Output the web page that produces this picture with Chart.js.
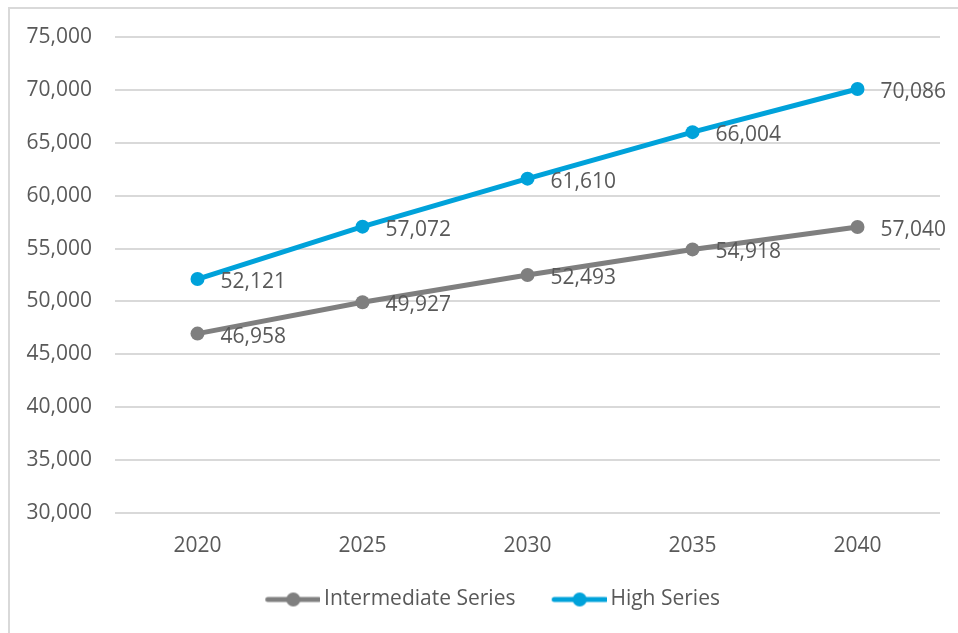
<!DOCTYPE html>
<html>
<head>
<meta charset="utf-8">
<script src="https://cdn.jsdelivr.net/npm/chart.js@4.4.1/dist/chart.umd.min.js"></script>
<style>
    html, body { margin: 0; padding: 0; background: #fff; overflow: hidden; width: 958px; height: 633px; }
    #frame { position: absolute; left: 8px; top: 7px; width: 1100px; height: 800px; border: 2px solid #d9d9d9; box-sizing: border-box; }
    #wrap { position: absolute; left: 0; top: 0; width: 980px; height: 633px; }
</style>
</head>
<body>
<div id="frame"></div>
<div id="wrap"><canvas id="chart" width="980" height="633"></canvas></div>
<script>
const years = ['2020', '2025', '2030', '2035', '2040'];
const intermediateSeries = [46958, 49927, 52493, 54918, 57040];
const highSeries = [52121, 57072, 61610, 66004, 70086];
const yTicks = [30000, 35000, 40000, 45000, 50000, 55000, 60000, 65000, 70000, 75000];

const textColor = '#595959';
const gridColor = '#d9d9d9';
const fontFamily = '"Open Sans", "Noto Sans", sans-serif';
const fontSize = 21;

const fmt = function (v) {
    return Number(v).toLocaleString('en-US');
};

// legend marker: line with a dot, sitting at the right side of the image
const markerBox = 53.5;
const legendMarker = function (color) {
    const c = document.createElement('canvas');
    c.width = Math.round(markerBox + 13);
    c.height = 16;
    const ctx = c.getContext('2d');
    const x1 = c.width - 1.5;
    const x0 = x1 - 51;
    ctx.strokeStyle = color;
    ctx.lineWidth = 5;
    ctx.lineCap = 'round';
    ctx.beginPath();
    ctx.moveTo(x0, 8);
    ctx.lineTo(x1, 8);
    ctx.stroke();
    ctx.fillStyle = color;
    ctx.beginPath();
    ctx.arc((x0 + x1) / 2, 8, 7, 0, Math.PI * 2);
    ctx.fill();
    return c;
};

// values written to the right of each point
const pointLabels = {
    id: 'pointLabels',
    afterDatasetsDraw: function (chart) {
        const ctx = chart.ctx;
        ctx.save();
        ctx.font = fontSize + 'px ' + fontFamily;
        ctx.fillStyle = textColor;
        ctx.textAlign = 'left';
        ctx.textBaseline = 'middle';
        chart.data.datasets.forEach(function (ds, i) {
            chart.getDatasetMeta(i).data.forEach(function (pt, j) {
                ctx.fillText(fmt(ds.data[j]), pt.x + 23, pt.y + 3);
            });
        });
        ctx.restore();
    }
};

const colors = { intermediate: '#7f7f7f', high: '#00a2da' };

new Chart(document.getElementById('chart'), {
    type: 'line',
    data: {
        labels: years,
        datasets: [{
            label: 'Intermediate Series',
            data: intermediateSeries,
            borderColor: colors.intermediate,
            backgroundColor: colors.intermediate,
            pointBackgroundColor: colors.intermediate,
            borderWidth: 5,
            pointRadius: 7,
            pointBorderWidth: 0,
            tension: 0
        }, {
            label: 'High Series',
            data: highSeries,
            borderColor: colors.high,
            backgroundColor: colors.high,
            pointBackgroundColor: colors.high,
            borderWidth: 5,
            pointRadius: 7,
            pointBorderWidth: 0,
            tension: 0
        }]
    },
    options: {
        responsive: false,
        animation: false,
        layout: { padding: { left: 0, right: 0, top: 37, bottom: 13 } },
        plugins: {
            tooltip: { enabled: false },
            legend: {
                position: 'bottom',
                labels: {
                    color: textColor,
                    font: { family: fontFamily, size: fontSize },
                    usePointStyle: true,
                    pointStyleWidth: markerBox,
                    padding: 31,
                    generateLabels: function (chart) {
                        return chart.data.datasets.map(function (ds, i) {
                            return {
                                text: ds.label,
                                pointStyle: legendMarker(ds.borderColor),
                                fontColor: textColor,
                                datasetIndex: i,
                                hidden: false,
                                lineWidth: 0
                            };
                        });
                    }
                }
            }
        },
        scales: {
            x: {
                offset: true,
                afterFit: function (scale) {
                    scale.height = 45;
                },
                grid: { display: false, drawTicks: false },
                border: { display: false },
                ticks: {
                    color: textColor,
                    font: { family: fontFamily, size: fontSize },
                    padding: 20
                }
            },
            y: {
                min: 30000,
                max: 75000,
                afterBuildTicks: function (scale) {
                    scale.ticks = yTicks.map(function (v) { return { value: v }; });
                },
                afterFit: function (scale) {
                    scale.width = 115;
                },
                grid: { color: gridColor, lineWidth: 2, drawTicks: false },
                border: { display: false },
                ticks: {
                    color: textColor,
                    font: { family: fontFamily, size: fontSize },
                    padding: 23,
                    callback: function (v) { return fmt(v); }
                }
            },
            // empty spacer on the right so the legend sits where the original has it
            yRight: {
                position: 'right',
                min: 30000,
                max: 75000,
                afterFit: function (scale) {
                    scale.width = 40;
                },
                grid: { display: false, drawTicks: false },
                border: { display: false },
                ticks: { display: false }
            }
        }
    },
    plugins: [pointLabels]
});
</script>
</body>
</html>
